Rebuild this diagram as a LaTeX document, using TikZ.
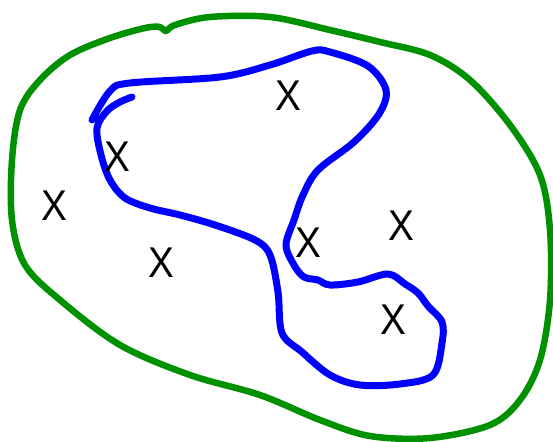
\documentclass[tikz,border=0pt]{standalone}
\usepackage{fontspec}
\setmainfont{Liberation Sans}
\definecolor{setgreen}{RGB}{0,145,0}
\definecolor{setblue}{RGB}{0,0,255}
\begin{document}
\begin{tikzpicture}[x=1pt,y=-1pt,
  greenline/.style={draw=setgreen,line width=6.5pt,line cap=round,line join=round},
  blueline/.style={draw=setblue,line width=7pt,line cap=round,line join=round},
  xmark/.style={font=\fontsize{43}{43}\selectfont,inner sep=0pt,xscale=0.9}]
\useasboundingbox (0,0) rectangle (553,441);
% green set
\draw[greenline] plot[smooth cycle,tension=0.55] coordinates {
 (145,28) (160,27) (166,31) (175,25) (210,17) (270,17) (330,30) (380,42) (430,55) (470,80)
 (510,125) (540,175) (550,230) (550,300) (540,360) (520,400) (490,425)
 (430,438) (370,436) (320,420) (260,395) (190,375) (120,345) (60,300)
 (25,265) (12,220) (12,160) (20,110) (40,80) (70,55) (110,38)};
% blue set
\draw[blueline] plot[smooth,tension=0.55] coordinates {
 (92,120) (110,91) (130,83) (220,77) (270,65) (312,51) (330,52) (368,66)
 (386,90) (379,114) (354,142) (318,170) (303,195) (294,220) (286,245)
 (294,265) (304,277) (318,280) (330,285) (358,282) (388,274) (405,284)
 (418,293) (428,306) (442,322) (442,343) (433,375) (400,384) (360,385)
 (330,375) (302,352) (282,333) (278,292) (270,255) (255,240) (215,225)
 (180,215) (150,208) (125,198) (110,180) (101,155) (97,128) (107,111)
 (120,102) (132,97)};
\node[xmark] (x1) at (288,96) {X};
\node[xmark] (x2) at (117,157) {X};
\node[xmark] (x3) at (54,206) {X};
\node[xmark] (x4) at (161,263) {X};
\node[xmark] (x5) at (308,243) {X};
\node[xmark] (x6) at (401,226) {X};
\node[xmark] (x7) at (393,320) {X};
\end{tikzpicture}
\end{document}
